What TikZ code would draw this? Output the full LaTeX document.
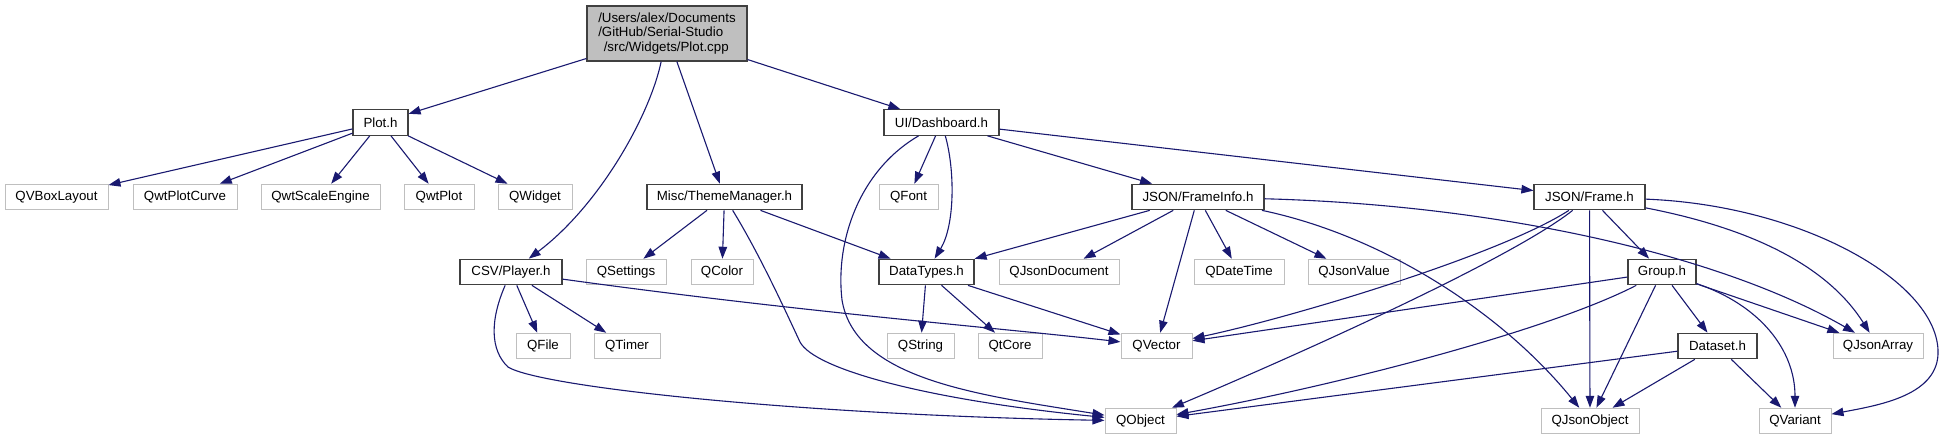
\documentclass[tikz,border=0pt]{standalone}
\usepackage{fontspec}
\setmainfont{Liberation Sans}
\usetikzlibrary{arrows.meta}
\definecolor{edgeblue}{RGB}{25,25,112}
\definecolor{extgray}{RGB}{191,191,191}
\definecolor{intborder}{RGB}{64,64,64}
\begin{document}
\begin{tikzpicture}[x=1pt,y=-1pt,
  base/.style={rectangle,inner sep=0pt,minimum height=25.5pt,font=\fontsize{13.3}{15}\selectfont,fill=white},
  intnode/.style={base,draw=intborder,line width=1.2pt},
  extnode/.style={base,draw=extgray,line width=1pt},
  mainnode/.style={rectangle,draw=intborder,line width=1.2pt,fill=extgray,minimum width=160pt,minimum height=55pt,inner sep=0pt,font=\fontsize{13.3}{14.8}\selectfont,align=left},
  dep/.style={draw=edgeblue,line width=1.1pt,-{Triangle[length=12pt,width=8.5pt]},fill=none}
]
\useasboundingbox (0,0) rectangle (1945,440);
\fill[white] (0,0) rectangle (1945,440);

% main file
\node[mainnode] (main) at (667,33.5) {\parbox{137.5pt}{/Users/alex/Documents\\/GitHub/Serial-Studio\\\hspace*{5.5pt}/src/Widgets/Plot.cpp}};

% row 1
\node[intnode,minimum width=55pt] (plot) at (380.5,122.5) {Plot.h};
\node[intnode,minimum width=115pt] (dash) at (941.5,122.5) {UI/Dashboard.h};

% row 2
\node[extnode,minimum width=103pt] (qvbox) at (56.5,197) {QVBoxLayout};
\node[extnode,minimum width=104pt] (qwtcurve) at (185,197) {QwtPlotCurve};
\node[extnode,minimum width=119pt] (qwtscale) at (320.5,197) {QwtScaleEngine};
\node[extnode,minimum width=70pt] (qwtplot) at (439,197) {QwtPlot};
\node[extnode,minimum width=74pt] (qwidget) at (535,197) {QWidget};
\node[intnode,minimum width=155pt] (theme) at (724.5,197) {Misc/ThemeManager.h};
\node[extnode,minimum width=59pt] (qfont) at (908.5,197) {QFont};
\node[intnode,minimum width=132pt] (frameinfo) at (1198,197) {JSON/FrameInfo.h};
\node[intnode,minimum width=111pt] (frame) at (1589.5,197) {JSON/Frame.h};

% row 3
\node[intnode,minimum width=102pt] (player) at (511,272) {CSV/Player.h};
\node[extnode,minimum width=80pt] (qsettings) at (626,272) {QSettings};
\node[extnode,minimum width=62pt] (qcolor) at (722,272) {QColor};
\node[intnode,minimum width=95pt] (datatypes) at (926.5,272) {DataTypes.h};
\node[extnode,minimum width=120pt] (qjsondoc) at (1059,272) {QJsonDocument};
\node[extnode,minimum width=90pt] (qdatetime) at (1239,272) {QDateTime};
\node[extnode,minimum width=92pt] (qjsonvalue) at (1354,272) {QJsonValue};
\node[intnode,minimum width=68pt] (group) at (1662,272) {Group.h};

% row 4
\node[extnode,minimum width=54pt] (qfile) at (543,346) {QFile};
\node[extnode,minimum width=66pt] (qtimer) at (627,346) {QTimer};
\node[extnode,minimum width=67pt] (qstring) at (920.5,346) {QString};
\node[extnode,minimum width=64pt] (qtcore) at (1010,346) {QtCore};
\node[extnode,minimum width=71pt] (qvector) at (1156.5,346) {QVector};
\node[intnode,minimum width=79pt] (dataset) at (1717.5,346) {Dataset.h};
\node[extnode,minimum width=90pt] (qjsonarray) at (1878,346) {QJsonArray};

% row 5
\node[extnode,minimum width=71pt] (qobject) at (1140.5,421) {QObject};
\node[extnode,minimum width=98pt] (qjsonobject) at (1590,421) {QJsonObject};
\node[extnode,minimum width=72pt] (qvariant) at (1795,421) {QVariant};

% main file
\draw[dep] (main) -- (plot);
\draw[dep] (main) .. controls (650,115) and (600,205) .. (player);
\draw[dep] (main) -- (theme);
\draw[dep] (main) -- (dash);

% Plot.h
\draw[dep] (plot) -- (qvbox);
\draw[dep] (plot) -- (qwtcurve);
\draw[dep] (plot) -- (qwtscale);
\draw[dep] (plot) -- (qwtplot);
\draw[dep] (plot) -- (qwidget);

% CSV/Player.h
\draw[dep] (player) -- (qfile);
\draw[dep] (player) -- (qtimer);
\draw[dep] (player) .. controls (800,312) and (1000,328) .. (qvector);
\draw[dep] (player) .. controls (490,320) and (490,350) .. (508,367) .. controls (540,387) and (800,415) .. (qobject);

% Misc/ThemeManager.h
\draw[dep] (theme) -- (qsettings);
\draw[dep] (theme) -- (qcolor);
\draw[dep] (theme) -- (datatypes);
\draw[dep] (theme) .. controls (760,255) and (785,310) .. (800,342) .. controls (815,370) and (930,400) .. (qobject);

% UI/Dashboard.h
\draw[dep] (dash) -- (qfont);
\draw[dep] (dash) .. controls (955,170) and (955,225) .. (datatypes);
\draw[dep] (dash) .. controls (860,170) and (835,240) .. (842,300) .. controls (855,380) and (980,395) .. (qobject);
\draw[dep] (dash) -- (frameinfo);
\draw[dep] (dash) -- (frame);

% DataTypes.h
\draw[dep] (datatypes) -- (qstring);
\draw[dep] (datatypes) -- (qtcore);
\draw[dep] (datatypes) -- (qvector);

% JSON/FrameInfo.h
\draw[dep] (frameinfo) -- (datatypes);
\draw[dep] (frameinfo) -- (qjsondoc);
\draw[dep] (frameinfo) -- (qvector);
\draw[dep] (frameinfo) -- (qdatetime);
\draw[dep] (frameinfo) -- (qjsonvalue);
\draw[dep] (frameinfo) .. controls (1380,235) and (1500,310) .. (qjsonobject);
\draw[dep] (frameinfo) .. controls (1500,205) and (1720,255) .. (qjsonarray);

% JSON/Frame.h
\draw[dep] (frame) -- (group);
\draw[dep] (frame) -- (qjsonobject);
\draw[dep] (frame) .. controls (1500,255) and (1290,318) .. (qvector);
\draw[dep] (frame) .. controls (1510,260) and (1290,358) .. (qobject);
\draw[dep] (frame) .. controls (1760,230) and (1830,270) .. (qjsonarray);
\draw[dep] (frame) .. controls (1800,205) and (1935,280) .. (1938,350) .. controls (1940,395) and (1880,405) .. (qvariant);

% Group.h
\draw[dep] (group) -- (dataset);
\draw[dep] (group) -- (qjsonobject);
\draw[dep] (group) -- (qjsonarray);
\draw[dep] (group) .. controls (1760,305) and (1795,350) .. (qvariant);
\draw[dep] (group) -- (qvector);
\draw[dep] (group) .. controls (1550,330) and (1340,385) .. (qobject);

% Dataset.h
\draw[dep] (dataset) -- (qobject);
\draw[dep] (dataset) -- (qjsonobject);
\draw[dep] (dataset) -- (qvariant);
\end{tikzpicture}
\end{document}
